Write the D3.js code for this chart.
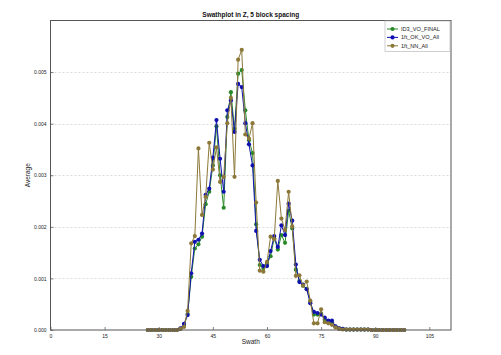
<!DOCTYPE html>
<html><head><meta charset="utf-8">
<script src="https://cdn.jsdelivr.net/npm/d3@7/dist/d3.min.js"></script>
<style>
body{margin:0;background:#fff}
svg{display:block;font-family:"Liberation Sans",Arial,Helvetica,sans-serif}
</style>
</head><body>
<svg id="chart" width="501" height="355"></svg>
<script>
// ---- data ----
const swaths = [27,28,29,30,31,32,33,34,35,36,37,38,39,40,41,42,43,44,45,46,47,48,49,50,51,52,53,54,55,56,57,58,59,60,61,62,63,64,65,66,67,68,69,70,71,72,73,74,75,76,77,78,79,80,81,82,83,84,85,86,87,88,89,90,91,92,93,94,95,96,97,98];

const id3VoFinal = [0,0,0,0,0,0,0,0,0,0.00002,0.00008,0.00031,0.00103,0.00158,0.00166,0.00181,0.00244,0.00268,0.00319,0.00395,0.00300,0.00237,0.00413,0.00461,0.00390,0.00497,0.00504,0.00426,0.00368,0.00343,0.00205,0.00126,0.00120,0.00128,0.00143,0.00178,0.00156,0.00184,0.00169,0.00231,0.00197,0.00117,0.00095,0.00086,0.00080,0.00055,0.00030,0.00030,0.00032,0.00020,0.00016,0.00015,0.00006,0.00003,0.00002,0.00001,0.00001,0.00001,0.00001,0.00001,0.00001,0.00001,0,0,0,0,0,0,0,0,0,0];

const okVoAll = [0,0,0,0,0,0,0,0,0,0.00003,0.00012,0.00029,0.00110,0.00171,0.00175,0.00187,0.00262,0.00274,0.00334,0.00407,0.00332,0.00268,0.00426,0.00445,0.00384,0.00477,0.00471,0.00401,0.00360,0.00319,0.00192,0.00136,0.00124,0.00124,0.00153,0.00182,0.00161,0.00203,0.00184,0.00245,0.00212,0.00127,0.00093,0.00088,0.00079,0.00052,0.00035,0.00033,0.00030,0.00024,0.00018,0.00018,0.00007,0.00003,0.00002,0.00001,0.00001,0.00001,0.00001,0.00001,0.00001,0.00001,0,0,0,0,0,0,0,0,0,0];

const nnAll = [0,0,0,0,0,0,0,0,0,0.00002,0.00006,0.00037,0.00168,0.00182,0.00352,0.00223,0.00258,0.00363,0.00311,0.00354,0.00287,0.00297,0.00401,0.00450,0.00297,0.00524,0.00543,0.00379,0.00371,0.00401,0.00247,0.00115,0.00113,0.00132,0.00181,0.00176,0.00289,0.00216,0.00194,0.00268,0.00201,0.00105,0.00106,0.00086,0.00094,0.00057,0.00013,0.00013,0.00040,0.00015,0.00013,0.00010,0.00005,0.00002,0.00001,0.00001,0.00001,0.00001,0.00001,0.00001,0.00001,0.00001,0,0,0,0,0,0,0,0,0,0];

const seriesNames = ["ID3_VO_FINAL","1ft_OK_VO_All","1ft_NN_All"];
const seriesColors = ["#2a8a2a","#1010b0","#8c7838"];
const xTicks = [0,15,30,45,60,75,90,105];
const yTicks = [0,0.001,0.002,0.003,0.004,0.005];
const titleText = "Swathplot in Z, 5 block spacing";
const xLabel = "Swath";
const yLabel = "Average";

// ---- layout ----
const svg = d3.select("#chart");
const L = 50.5, R = 451, T = 20.5, B = 330;
const x = d3.scaleLinear().domain([0,111]).range([L,R]);
const y = d3.scaleLinear().domain([0,0.006]).range([B,T]);

// grid
svg.append("g").selectAll("line").data(yTicks.slice(1)).join("line")
  .attr("x1",L).attr("x2",R)
  .attr("y1",d=>Math.round(y(d))+0.5).attr("y2",d=>Math.round(y(d))+0.5)
  .attr("stroke","#d0d0d0").attr("stroke-width",0.8).attr("stroke-dasharray","2,2");

// axes
const xAxis = d3.axisBottom(x).tickValues(xTicks).tickSize(-3).tickPadding(4).tickFormat(d3.format("d"));
const yAxis = d3.axisLeft(y).tickValues(yTicks).tickSize(-3).tickPadding(4).tickFormat(d3.format(".3f"));
const gx = svg.append("g").attr("transform",`translate(0,${B})`).call(xAxis);
const gy = svg.append("g").attr("transform",`translate(${L},0)`).call(yAxis);
[gx,gy].forEach(g=>{
  g.select(".domain").remove();
  g.selectAll(".tick line").attr("stroke","#333").attr("stroke-width",0.6);
  g.selectAll(".tick text").attr("font-size",5).attr("fill","#222").attr("font-family","Liberation Sans, Arial, sans-serif");
});

// series
const allSeries = [id3VoFinal, okVoAll, nnAll];
const line = d3.line().x(d=>x(d[0])).y(d=>y(d[1]));
allSeries.forEach((vals,i)=>{
  const pts = swaths.map((s,j)=>[s, vals[j]]);
  const g = svg.append("g");
  g.append("path").attr("d",line(pts)).attr("fill","none")
    .attr("stroke",seriesColors[i]).attr("stroke-width",1);
  g.selectAll("circle").data(pts).join("circle")
    .attr("cx",d=>x(d[0])).attr("cy",d=>y(d[1])).attr("r",2.1)
    .attr("fill",seriesColors[i]);
});

// frame
svg.append("rect").attr("x",L).attr("y",T).attr("width",R-L).attr("height",B-T)
  .attr("fill","none").attr("stroke","#555").attr("stroke-width",1);

// title & labels
svg.append("text").attr("x",(L+R)/2).attr("y",17).attr("text-anchor","middle")
  .attr("font-size",6.5).attr("font-weight","bold").attr("fill","#111").text(titleText);
svg.append("text").attr("x",(L+R)/2).attr("y",344).attr("text-anchor","middle")
  .attr("font-size",6.5).attr("fill","#222").text(xLabel);
svg.append("text").attr("transform",`translate(30,${(T+B)/2}) rotate(-90)`).attr("text-anchor","middle")
  .attr("font-size",6.5).attr("fill","#222").text(yLabel);

// legend
const lg = svg.append("g");
lg.append("rect").attr("x",385).attr("y",21).attr("width",65).attr("height",30.5)
  .attr("fill","#fff").attr("stroke","#bbb").attr("stroke-width",0.7);
seriesNames.forEach((n,i)=>{
  const yy = 29 + i*8.4;
  lg.append("line").attr("x1",387).attr("x2",398).attr("y1",yy).attr("y2",yy)
    .attr("stroke",seriesColors[i]).attr("stroke-width",1);
  lg.append("circle").attr("cx",392.5).attr("cy",yy).attr("r",2.1).attr("fill",seriesColors[i]);
  lg.append("text").attr("x",401).attr("y",yy+2).attr("font-size",5.6).attr("fill","#222").text(n);
});
</script>
</body></html>
